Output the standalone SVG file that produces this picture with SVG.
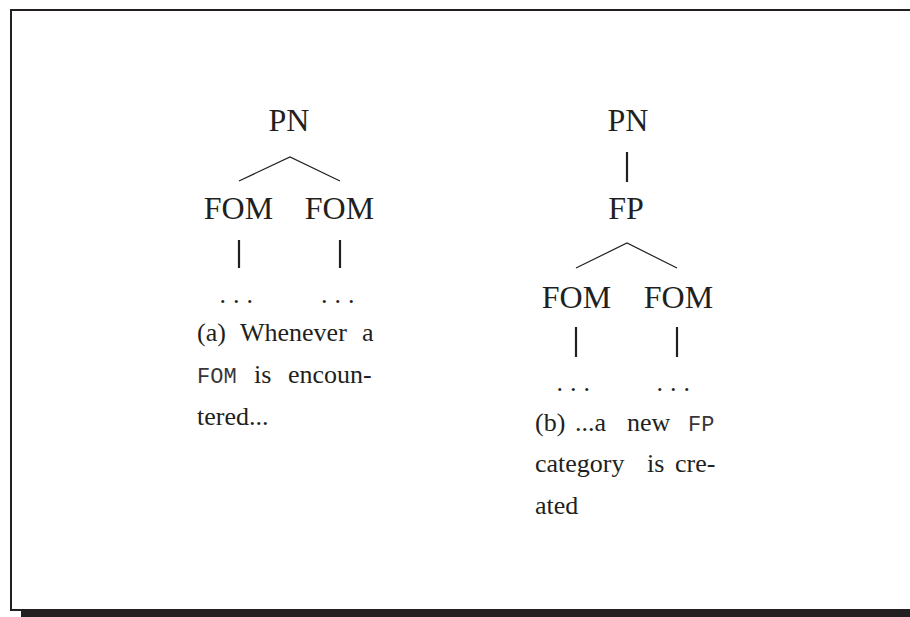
<svg xmlns="http://www.w3.org/2000/svg" width="910" height="617" viewBox="0 0 910 617">
  <style>
    .lbl { font-family: "Liberation Serif", "Times New Roman", serif; font-size: 32px; fill: #231f20; text-anchor: middle; }
    .dots { font-family: "Liberation Serif", "Times New Roman", serif; font-size: 26px; fill: #231f20; letter-spacing: 7px; }
    .cap { font-family: "Liberation Serif", "Times New Roman", serif; font-size: 26px; fill: #231f20; }
    .tt { font-family: "Liberation Mono", "Courier New", monospace; font-size: 22px; fill: #3a3637; }
    .thin { stroke: #231f20; stroke-width: 1.2; fill: none; }
    .stem { stroke: #231f20; stroke-width: 2.2; fill: none; }
  </style>

  <rect width="910" height="617" fill="#ffffff"/>

  <!-- framed box with a drop shadow along the bottom -->
  <g id="frame">
    <rect x="11" y="10" width="920" height="600" fill="none" stroke="#231f20" stroke-width="2"/>
    <rect x="21" y="610" width="889" height="7" fill="#231f20"/>
  </g>

  <!-- tree edges -->
  <g id="connectors">
    <!-- tree (a) -->
    <polyline class="thin" points="239,181 290,157 340,181"/>
    <line class="stem" x1="239" y1="240" x2="239" y2="268"/>
    <line class="stem" x1="340" y1="240" x2="340" y2="268"/>
    <!-- tree (b) -->
    <line class="stem" x1="627" y1="152" x2="627" y2="182"/>
    <polyline class="thin" points="576,268 627,243 677,268"/>
    <line class="stem" x1="576" y1="327" x2="576" y2="357"/>
    <line class="stem" x1="677" y1="327" x2="677" y2="357"/>
  </g>

  <!-- tree (a) -->
  <g id="a-pn"><text class="lbl" x="289" y="131">PN</text></g>
  <g id="a-fom1"><text class="lbl" x="238.5" y="219">FOM</text></g>
  <g id="a-fom2"><text class="lbl" x="339.5" y="219">FOM</text></g>
  <g id="a-dots1"><text class="dots" x="219.5" y="303">...</text></g>
  <g id="a-dots2"><text class="dots" x="321" y="303">...</text></g>
  <g id="a-caption">
    <text class="cap" y="341"><tspan x="197">(a)</tspan><tspan x="240">Whenever</tspan><tspan x="362">a</tspan></text>
    <text y="383"><tspan class="tt" x="197">FOM</tspan><tspan class="cap" x="254">is</tspan><tspan class="cap" x="288">encoun-</tspan></text>
    <text class="cap" x="197" y="425">tered...</text>
  </g>

  <!-- tree (b) -->
  <g id="b-pn"><text class="lbl" x="628" y="131">PN</text></g>
  <g id="b-fp"><text class="lbl" x="626" y="219">FP</text></g>
  <g id="b-fom1"><text class="lbl" x="576.5" y="308">FOM</text></g>
  <g id="b-fom2"><text class="lbl" x="678.5" y="308">FOM</text></g>
  <g id="b-dots1"><text class="dots" x="556.5" y="391">...</text></g>
  <g id="b-dots2"><text class="dots" x="656.5" y="391">...</text></g>
  <g id="b-caption">
    <text y="431"><tspan class="cap" x="535">(b)</tspan><tspan class="cap" x="575">...a</tspan><tspan class="cap" x="627">new</tspan><tspan class="tt" x="688">FP</tspan></text>
    <text class="cap" y="472"><tspan x="535">category</tspan><tspan x="647">is</tspan><tspan x="675">cre-</tspan></text>
    <text class="cap" x="535" y="514">ated</text>
  </g>
</svg>
